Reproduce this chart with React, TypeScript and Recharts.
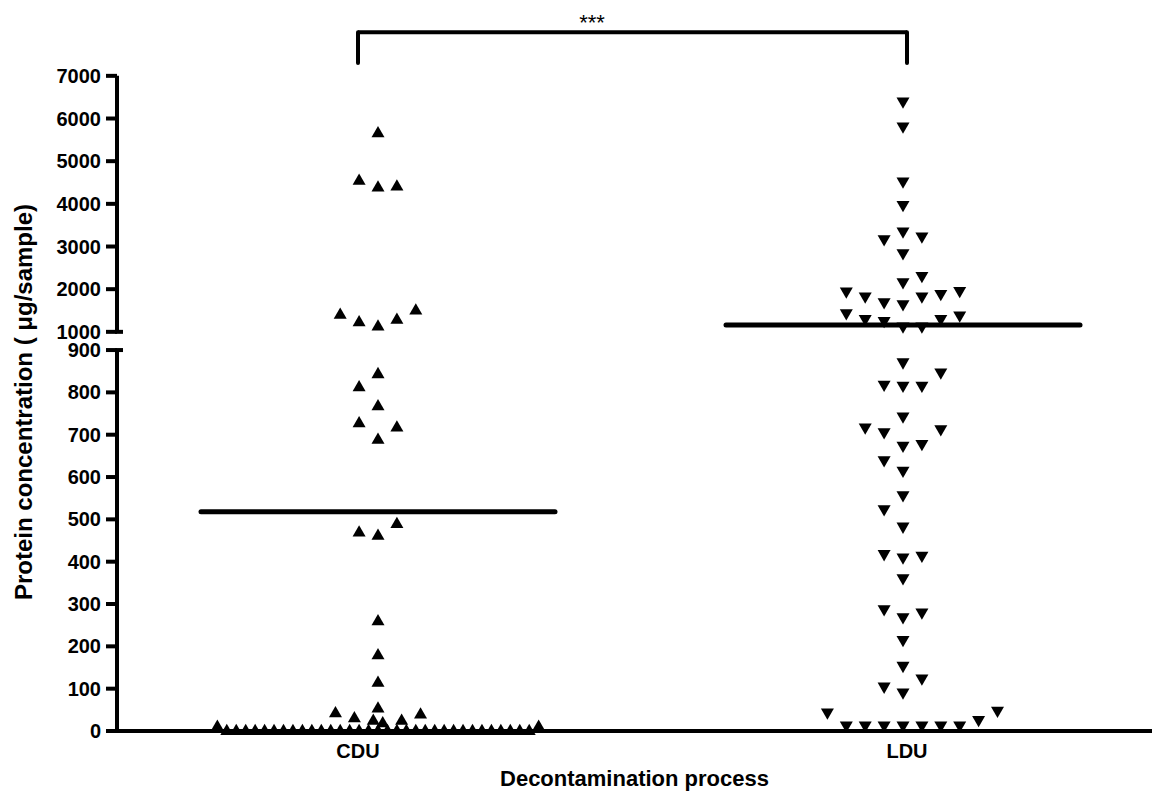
import React from 'react';
import { ScatterChart, Scatter, XAxis, YAxis, ReferenceLine, ReferenceDot } from 'recharts';

const FONT = "'Liberation Sans', Arial, Helvetica, sans-serif";

// groups on the x axis (label position, column centre of the jittered points)
const GROUPS = ['CDU', 'LDU'];
const GROUP_TICKS = [24.1, 79.0];
const GROUP_CENTRES = [26.1, 78.6];

// CDU: values (µg/sample) and jitter slot of each point
const CDU_VALUES = [
  5694, 4579, 4422, 4445,
  1438, 1265, 1164, 1320, 1539,
  847, 816, 771, 731, 721, 692,
  493, 473, 465,
  263, 183, 118,
  46, 34, 57, 28, 22, 28, 43,
  14, 4, 4, 4, 4, 4, 4, 4, 4, 4, 4, 4, 4, 4, 4, 4, 4, 4,
  4, 4, 4, 4, 4, 4, 4, 4, 4, 4, 4, 4, 4, 4, 4, 4, 14,
];
const CDU_SLOTS = [
  0, -2, 0, 2,
  -4, -2, 0, 2, 4,
  0, -2, 0, -2, 2, 0,
  2, -2, 0,
  0, 0, 0,
  -4.5, -2.5, 0, -0.5, 0.5, 2.5, 4.5,
  -17, -16, -15, -14, -13, -12, -11, -10, -9, -8, -7, -6, -5, -4, -3, -2, -1, 0,
  1, 2, 3, 4, 5, 6, 7, 8, 9, 10, 11, 12, 13, 14, 15, 16, 17,
];

// LDU: values (µg/sample) and jitter slot of each point
const LDU_VALUES = [
  6360, 5774, 4485, 3937, 3313, 3133, 3196, 2805, 2273, 2125,
  1907, 1790, 1656, 1609, 1790, 1851, 1921,
  1398, 1265, 1218, 1087, 1087, 1265, 1344,
  867, 843, 814, 812, 812, 739, 713, 702, 709, 674, 670, 636, 611,
  553, 520, 479, 414, 406, 410, 357, 284, 265, 276, 211,
  150, 120, 101, 87, 40, 44, 22,
  9, 9, 9, 9, 9, 9, 9,
];
const LDU_SLOTS = [
  0, 0, 0, 0, 0, -2, 2, 0, 2, 0,
  -6, -4, -2, 0, 2, 4, 6,
  -6, -4, -2, 0, 2, 4, 6,
  0, 4, -2, 0, 2, 0, -4, -2, 4, 2, 0, -2, 0,
  0, -2, 0, -2, 0, 2, 0, -2, 0, 2, 0,
  0, 2, -2, 0, -8, 10, 8,
  -6, -4, -2, 0, 2, 4, 6,
];

const MEDIANS = [518, 1160];

const LOWER_TICKS = [0, 100, 200, 300, 400, 500, 600, 700, 800, 900];
const UPPER_TICKS = [1000, 2000, 3000, 4000, 5000, 6000, 7000];

// broken axis: 0-900 linear, 1000-7000 compressed ten-fold above the gap
const BREAK_LOW = 900;
const BREAK_HIGH = 1000;
const BREAK_BASE = 943;
const UPPER_SCALE = 0.1008;
const toAxis = (v: number) => (v <= BREAK_LOW ? v : BREAK_BASE + (v - BREAK_HIGH) * UPPER_SCALE);

const SLOT = 0.945;
const MEDIAN_HALF = 17.7;
const Y_MAX = 1701;
const BRACKET_Y = 1651;
const BRACKET_FOOT = 1578;

const yTicks = [...LOWER_TICKS, ...UPPER_TICKS].map((v) => ({ pos: toAxis(v), label: v }));
const formatY = (pos: number) => {
  const t = yTicks.find((d) => Math.abs(d.pos - pos) < 0.01);
  return t ? String(t.label) : '';
};

const buildPoints = (values: number[], slots: number[], centre: number) =>
  values.map((v, i) => ({ x: centre + slots[i] * SLOT, y: toAxis(v), value: v }));

const cduData = buildPoints(CDU_VALUES, CDU_SLOTS, GROUP_CENTRES[0]);
const lduData = buildPoints(LDU_VALUES, LDU_SLOTS, GROUP_CENTRES[1]);

const W = 13;
const H = 11.3;
const UpTriangle = (props: any) => {
  const { cx, cy } = props;
  return <polygon points={`${cx},${cy - H / 2} ${cx + W / 2},${cy + H / 2} ${cx - W / 2},${cy + H / 2}`} fill="#000" />;
};
const DownTriangle = (props: any) => {
  const { cx, cy } = props;
  return <polygon points={`${cx - W / 2},${cy - H / 2} ${cx + W / 2},${cy - H / 2} ${cx},${cy + H / 2}`} fill="#000" />;
};

const YTitle = () => (
  <text
    x={23}
    y={402}
    transform="rotate(-90, 23, 402)"
    textAnchor="middle"
    dominantBaseline="central"
    fontSize={24}
    fontWeight={700}
    fill="#000"
    fontFamily={FONT}
  >
    Protein concentration ( μg/sample)
  </text>
);

const line = { stroke: '#000', strokeWidth: 4, ifOverflow: 'visible' as const };

export default function App() {
  return (
    <div style={{ position: 'absolute', left: 0, top: 0, width: 1156, height: 795, background: '#fff', fontFamily: FONT }}>
      <ScatterChart width={1156} height={795} margin={{ top: 11, right: 4, bottom: 0, left: 0 }}>
        <XAxis
          type="number"
          dataKey="x"
          domain={[0, 103.5]}
          ticks={GROUP_TICKS}
          interval={0}
          tickFormatter={(v: number) => GROUPS[GROUP_TICKS.indexOf(v)] ?? ''}
          axisLine={{ stroke: '#000', strokeWidth: 4 }}
          tickLine={false}
          tickSize={0}
          tickMargin={13}
          height={64}
          tick={{ fontSize: 20, fontWeight: 700, fill: '#000', fontFamily: FONT }}
          label={{ value: 'Decontamination process', position: 'insideBottom', offset: 9, fontSize: 22, fontWeight: 700, fill: '#000', fontFamily: FONT }}
        />
        <YAxis
          type="number"
          dataKey="y"
          domain={[0, Y_MAX]}
          ticks={yTicks.map((d) => d.pos)}
          interval={0}
          tickFormatter={formatY}
          width={117}
          axisLine={false}
          tickLine={{ stroke: '#000', strokeWidth: 4 }}
          tickSize={11}
          tickMargin={5}
          tick={{ fontSize: 20, fontWeight: 700, fill: '#000', fontFamily: FONT }}
          label={YTitle}
        />

        {/* broken y axis */}
        <ReferenceLine segment={[{ x: 0, y: toAxis(0) }, { x: 0, y: toAxis(900) }]} {...line} />
        <ReferenceLine segment={[{ x: 0, y: toAxis(1000) }, { x: 0, y: toAxis(7000) }]} {...line} />
        <ReferenceLine segment={[{ x: -0.2, y: toAxis(900) }, { x: 0.6, y: toAxis(900) }]} {...line} />
        <ReferenceLine segment={[{ x: -0.2, y: toAxis(1000) }, { x: 0.6, y: toAxis(1000) }]} {...line} />

        <Scatter data={cduData} shape={UpTriangle} isAnimationActive={false} />
        <Scatter data={lduData} shape={DownTriangle} isAnimationActive={false} />

        {/* medians */}
        {MEDIANS.map((m, i) => (
          <ReferenceLine
            key={GROUPS[i]}
            segment={[{ x: GROUP_CENTRES[i] - MEDIAN_HALF, y: toAxis(m) }, { x: GROUP_CENTRES[i] + MEDIAN_HALF, y: toAxis(m) }]}
            stroke="#000"
            strokeWidth={5}
            strokeLinecap="round"
            ifOverflow="visible"
          />
        ))}

        {/* significance bracket */}
        <ReferenceLine segment={[{ x: GROUP_TICKS[0], y: BRACKET_Y }, { x: GROUP_TICKS[1], y: BRACKET_Y }]} {...line} />
        <ReferenceLine segment={[{ x: GROUP_TICKS[0], y: BRACKET_Y }, { x: GROUP_TICKS[0], y: BRACKET_FOOT }]} {...line} strokeLinecap="round" />
        <ReferenceLine segment={[{ x: GROUP_TICKS[1], y: BRACKET_Y }, { x: GROUP_TICKS[1], y: BRACKET_FOOT }]} {...line} strokeLinecap="round" />
        <ReferenceDot
          x={47.5}
          y={1675}
          r={0}
          fill="none"
          stroke="none"
          ifOverflow="visible"
          label={{ value: '***', position: 'center', fontSize: 22, fill: '#000', fontFamily: FONT }}
        />
      </ScatterChart>
    </div>
  );
}
